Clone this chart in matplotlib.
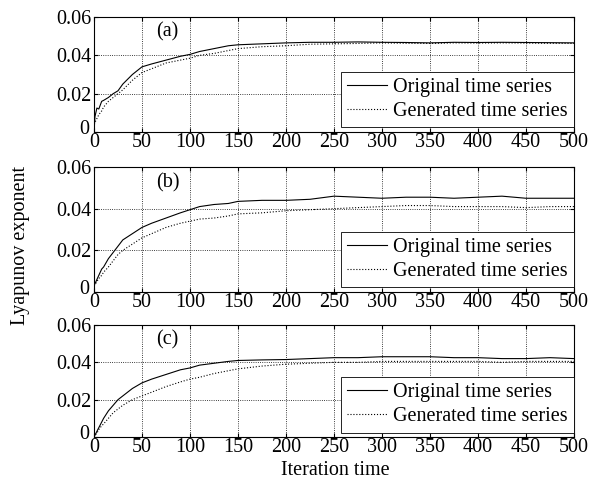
'''
Lyapunov exponent of original and generated time series
against the iteration time, three panels (a), (b), (c)
'''

import matplotlib.pyplot as plt
from matplotlib.transforms import ScaledTranslation

#################################

iters = [0, 1, 3, 5, 8, 10, 15, 20, 25, 30, 40, 50, 60, 75, 90, 100, 110, 125, 140,
         150, 175, 200, 225, 250, 275, 300, 325, 350, 375, 400, 425, 450, 475, 500]

# panel (a)
origA = [0.000, 0.008, 0.0125, 0.012, 0.016, 0.0165, 0.018, 0.020, 0.0215, 0.025, 0.030,
         0.034, 0.0355, 0.0375, 0.0395, 0.0405, 0.042, 0.0435, 0.045,
         0.0455, 0.046, 0.0465, 0.0468, 0.0468, 0.047, 0.0468, 0.0467, 0.0465, 0.0468, 0.0467,
         0.0468, 0.0467, 0.0466, 0.0465]
genA = [0.004, 0.005, 0.007, 0.009, 0.011, 0.013, 0.016, 0.018, 0.020, 0.022, 0.027,
        0.031, 0.033, 0.036, 0.0375, 0.0385, 0.040, 0.041, 0.0425,
        0.0435, 0.0445, 0.045, 0.0458, 0.046, 0.0462, 0.0465, 0.0463, 0.0462, 0.0465, 0.0464,
        0.0465, 0.0464, 0.0463, 0.0462]

# panel (b)
origB = [0.003, 0.004, 0.006, 0.008, 0.011, 0.012, 0.016, 0.019, 0.022, 0.025, 0.028,
         0.031, 0.033, 0.0355, 0.038, 0.0395, 0.041, 0.042, 0.0425,
         0.0435, 0.044, 0.044, 0.0445, 0.046, 0.0455, 0.045, 0.0455, 0.0455, 0.045, 0.0455,
         0.046, 0.045, 0.045, 0.045]
genB = [0.003, 0.0035, 0.005, 0.0065, 0.008, 0.0095, 0.012, 0.015, 0.018, 0.020, 0.023,
        0.026, 0.028, 0.031, 0.033, 0.034, 0.035, 0.0355, 0.0365,
        0.0375, 0.038, 0.039, 0.0395, 0.040, 0.0405, 0.041, 0.0415, 0.0415, 0.041, 0.041,
        0.041, 0.0405, 0.041, 0.041]

# panel (c)
origC = [0.000, 0.001, 0.003, 0.005, 0.008, 0.010, 0.014, 0.017, 0.020, 0.022, 0.026,
         0.029, 0.031, 0.0335, 0.036, 0.037, 0.0385, 0.0395, 0.0405,
         0.041, 0.0413, 0.0415, 0.042, 0.0425, 0.0425, 0.043, 0.043, 0.043, 0.0425, 0.0425,
         0.042, 0.042, 0.0425, 0.042]
genC = [0.000, 0.001, 0.002, 0.004, 0.006, 0.007, 0.010, 0.013, 0.015, 0.017, 0.020,
        0.022, 0.024, 0.027, 0.0295, 0.031, 0.032, 0.034, 0.0355,
        0.0365, 0.038, 0.039, 0.0395, 0.040, 0.040, 0.0405, 0.0405, 0.0405, 0.0405, 0.0405,
        0.040, 0.0405, 0.0405, 0.0405]

panelLabels = ['(a)', '(b)', '(c)']
xticks = [0, 50, 100, 150, 200, 250, 300, 350, 400, 450, 500]
yticks = [0, 0.02, 0.04, 0.06]
yticklabels = ['0', '0.02', '0.04', '0.06']


if __name__ == "__main__":
  '''Main block'''

  plt.rcParams['font.family'] = 'Liberation Serif'
  plt.rcParams['font.size'] = 14.5

  fig = plt.figure(figsize=(5.96, 4.91), dpi=100)

  # axes corners in pixels (left, top, right, bottom)
  W, H = 596.0, 491.0
  boxes = [(94, 17, 574, 132), (94, 167, 574, 292), (94, 325, 574, 437)]

  series = [(origA, genA), (origB, genB), (origC, genC)]

  for (x0, y0, x1, y1), (orig, gen), lab in zip(boxes, series, panelLabels):
    ax = fig.add_axes([x0/W, 1-y1/H, (x1-x0)/W, (y1-y0)/H])
    ax.plot(iters, orig, 'k-', lw=0.8, label='Original time series')
    ax.plot(iters, gen, 'k:', lw=0.8, label='Generated time series')
    ax.set_xlim(0, 500)
    ax.set_ylim(0, 0.06)
    ax.set_xticks(xticks)
    ax.set_yticks(yticks)
    ax.set_yticklabels(yticklabels)
    ax.grid(True, linestyle=':', color='k', linewidth=0.6)
    ax.tick_params(direction='in', top=True, right=True, length=3)
    ax.tick_params(axis='x', pad=1)
    ax.tick_params(axis='y', pad=2)
    # lift the y "0" a little so it sits clear of the x "0"
    ylab0 = ax.get_yticklabels()[0]
    ylab0.set_transform(ylab0.get_transform() + ScaledTranslation(-0.02, 0.05, fig.dpi_scale_trans))
    for s in ax.spines.values():
      s.set_linewidth(0.8)
    ax.text(0.13, 0.87, lab, transform=ax.transAxes, ha='left', va='center')
    leg = ax.legend(loc='lower right', bbox_to_anchor=(1.0, 0.04), borderaxespad=0,
                    frameon=True, fancybox=False, framealpha=1, edgecolor='k',
                    handlelength=2.0, handletextpad=0.3, labelspacing=0.25,
                    borderpad=0.3)
    leg.get_frame().set_linewidth(0.6)

  fig.text(0.035, 0.5, 'Lyapunov exponent', rotation=90, ha='center', va='center')
  fig.text(0.563, 0.042, 'Iteration time', ha='center', va='center')

  plt.savefig('out.png', dpi=100)
